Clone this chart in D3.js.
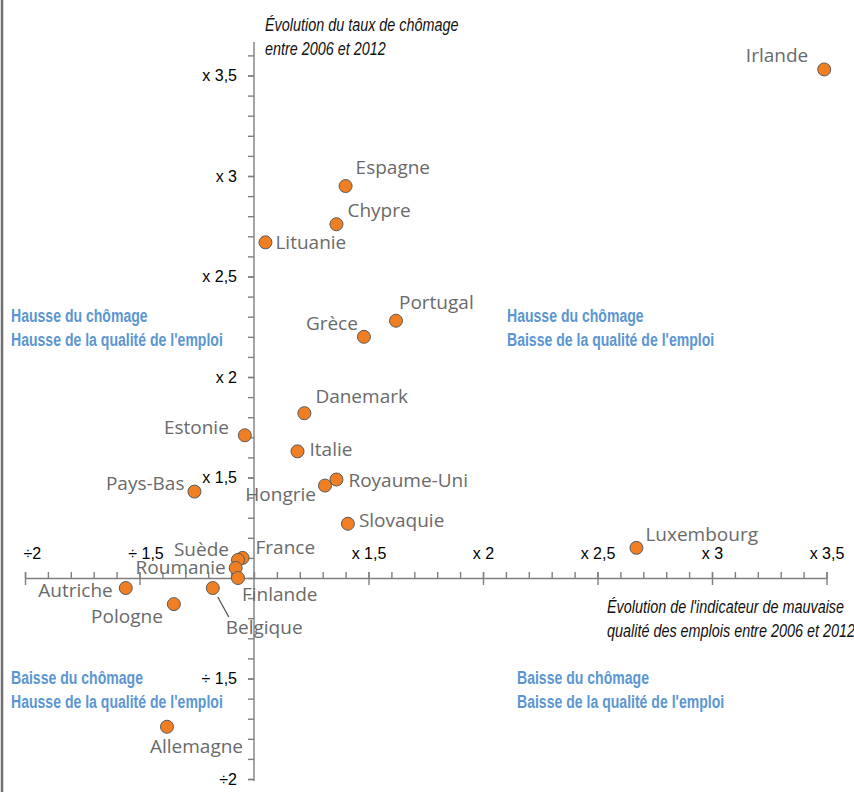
<!DOCTYPE html>
<html><head><meta charset="utf-8">
<script src="https://cdn.jsdelivr.net/npm/d3@7"></script>
<style>
body{margin:0;background:#fff;}
svg{display:block;}
</style></head>
<body>
<svg id="chart" width="854" height="792"></svg>
<script>
// ---- data (signed factors: positive = "x f", negative = "÷ |f|") ----
const countries = ["Irlande","Espagne","Chypre","Lituanie","Portugal","Grèce","Danemark","Estonie","Italie","Royaume-Uni","Hongrie","Pays-Bas","Slovaquie","Luxembourg","France","Suède","Roumanie","Finlande","Autriche","Belgique","Pologne","Allemagne"];
const qualityChange = [3.49,1.40,1.36,1.05,1.62,1.48,1.22,-1.04,1.19,1.36,1.31,-1.26,1.41,2.67,-1.05,-1.07,-1.08,-1.07,-1.56,-1.18,-1.35,-1.38];
const unemploymentChange = [3.53,2.95,2.76,2.67,2.28,2.20,1.82,1.71,1.63,1.49,1.46,1.43,1.27,1.15,1.10,1.09,1.05,1.00,-1.05,-1.05,-1.13,-1.74];
const xTickValues = [-2,-1.5,1.5,2,2.5,3,3.5];
const xTickLabels = ["÷2","÷ 1,5","x 1,5","x 2","x 2,5","x 3","x 3,5"];
const yTickValues = [3.5,3,2.5,2,1.5,-1.5,-2];
const yTickLabels = ["x 3,5","x 3","x 2,5","x 2","x 1,5","÷ 1,5","÷2"];
const yTitle = ["Évolution du taux de chômage","entre 2006 et 2012"];
const xTitle = ["Évolution de l'indicateur de mauvaise","qualité des emplois entre 2006 et 2012"];
const quadrants = [
  {lines:["Hausse du chômage","Hausse de la qualité de l'emploi"], pos:"tl"},
  {lines:["Hausse du chômage","Baisse de la qualité de l'emploi"], pos:"tr"},
  {lines:["Baisse du chômage","Hausse de la qualité de l'emploi"], pos:"bl"},
  {lines:["Baisse du chômage","Baisse de la qualité de l'emploi"], pos:"br"}
];

// ---- label layout (style only) ----
const labelLayout = {
  "Irlande":[-16,-7,"end"], "Espagne":[10,-12,"start"], "Chypre":[11,-7,"start"],
  "Lituanie":[10,7,"start"], "Portugal":[3,-12,"start"], "Grèce":[-6,-7,"end"],
  "Danemark":[11,-10,"start"], "Estonie":[-16,-1,"end"], "Italie":[12,5,"start"],
  "Royaume-Uni":[12,7,"start"], "Hongrie":[-9,15,"end"], "Pays-Bas":[-10,-2,"end"],
  "Slovaquie":[11,3,"start"], "Luxembourg":[9,-7,"start"], "France":[13,-4,"start"],
  "Suède":[-9,-4,"end"], "Roumanie":[-10,6,"end"], "Finlande":[4,23,"start"],
  "Autriche":[-13,9,"end"], "Belgique":[13,46,"start"], "Pologne":[-11,19,"end"],
  "Allemagne":[-17,26,"start"]
};

const toU = f => f >= 0 ? f - 1 : f + 1;
const svg = d3.select("#chart");

const x = d3.scaleLinear().domain([-1, 2.5]).range([25, 826.5]);
const y = d3.scaleLinear().domain([-1, 2.5]).range([779, 75.5]);
const x0 = x(0), y0 = y(0);

const axisColor = "#7f7f7f";

// left frame line
svg.append("line").attr("x1",2).attr("x2",2).attr("y1",0).attr("y2",792)
  .attr("stroke","#6f6f6f").attr("stroke-width",2.5);

// minor tick values
const minorX = d3.range(-10, 26).map(i => i/10);
const minorY = d3.range(-10, 27).map(i => i/10);

// X axis
const gx = svg.append("g").attr("transform",`translate(0,${y0})`);
gx.call(d3.axisTop(x).tickValues(minorX).tickSize(6).tickSizeOuter(0).tickFormat(""));
const gxM = svg.append("g").attr("transform",`translate(0,${y0})`);
gxM.call(d3.axisBottom(x).tickValues(xTickValues.map(toU)).tickSize(7).tickSizeOuter(0).tickFormat(""));
gxM.select(".domain").remove();
const gxL = svg.append("g").attr("transform",`translate(0,${y0})`);
gxL.call(d3.axisTop(x).tickValues(xTickValues.map(toU)).tickSize(6).tickPadding(13)
  .tickFormat((d,i) => xTickLabels[i]));
gxL.select(".domain").remove();
gxL.selectAll(".tick text").attr("text-anchor",(d,i)=> i===0 ? "start" : "middle")
  .attr("dx",(d,i)=> i===0 ? -2 : (i===1 ? 6 : 0));

// Y axis
const gy = svg.append("g").attr("transform",`translate(${x0},0)`);
gy.call(d3.axisLeft(y).tickValues(minorY).tickSize(6).tickSizeOuter(0).tickFormat(""));
gy.select(".domain").attr("d", `M0,${y(-1)+2}V42`);
const gyL = svg.append("g").attr("transform",`translate(${x0},0)`);
gyL.call(d3.axisLeft(y).tickValues(yTickValues.map(toU)).tickSize(6).tickPadding(11)
  .tickFormat((d,i) => yTickLabels[i]));
gyL.select(".domain").remove();

svg.selectAll(".domain, .tick line").attr("stroke",axisColor).attr("stroke-width",1.4);
svg.selectAll(".tick text").attr("fill","#000").style("font-family","'Liberation Sans', Arial, sans-serif").style("font-size","16px");

// condensed text helper (no condensed font installed -> horizontal scaling)
function condensed(lines, ox, oy, opts) {
  const g = svg.append("g").attr("transform",`translate(${ox},${oy}) scale(${opts.sx},1)`);
  g.append("text").attr("font-family","'Liberation Sans', Arial, sans-serif")
    .attr("font-style", opts.italic ? "italic" : null)
    .attr("font-weight", opts.bold ? "bold" : null)
    .attr("font-size", opts.size).attr("fill", opts.fill)
    .selectAll("tspan").data(lines).join("tspan").attr("x",0).attr("y",(d,i)=> i*24).text(d=>d);
}

// axis titles
condensed(yTitle, 265, 31, {sx:0.80, italic:true, size:"18px", fill:"#111"});
condensed(xTitle, 607, 613, {sx:0.80, italic:true, size:"18px", fill:"#111"});

// quadrant labels
const qpos = {tl:[11,322], tr:[507,322], bl:[11,684], br:[517,684]};
quadrants.forEach(q => {
  const [qx,qy] = qpos[q.pos];
  condensed(q.lines, qx, qy, {sx:0.76, bold:true, size:"18.5px", fill:"#5b96d3"});
});

// data
const data = countries.map((c,i) => ({name:c, qx: qualityChange[i], uy: unemploymentChange[i]}));

// Belgique leader line
const bel = data.find(d => d.name === "Belgique");
svg.append("line").attr("x1", x(toU(bel.qx))+5).attr("y1", y(toU(bel.uy))+9)
  .attr("x2", x(toU(bel.qx))+16).attr("y2", y(toU(bel.uy))+29)
  .attr("stroke","#555").attr("stroke-width",1.3);

// points
svg.append("g").selectAll("circle").data(data).join("circle")
  .attr("cx", d => x(toU(d.qx))).attr("cy", d => y(toU(d.uy))).attr("r",6.5)
  .attr("fill","#f07f23").attr("stroke","#5a5a5a").attr("stroke-width",1);

// labels
svg.append("g").selectAll("text").data(data).join("text")
  .attr("x", d => x(toU(d.qx)) + labelLayout[d.name][0])
  .attr("y", d => y(toU(d.uy)) + labelLayout[d.name][1])
  .attr("text-anchor", d => labelLayout[d.name][2])
  .attr("font-family","'Open Sans', 'Noto Sans', sans-serif").attr("font-size","19px")
  .attr("fill","#6a6a6a").text(d => d.name);
</script>
</body></html>
